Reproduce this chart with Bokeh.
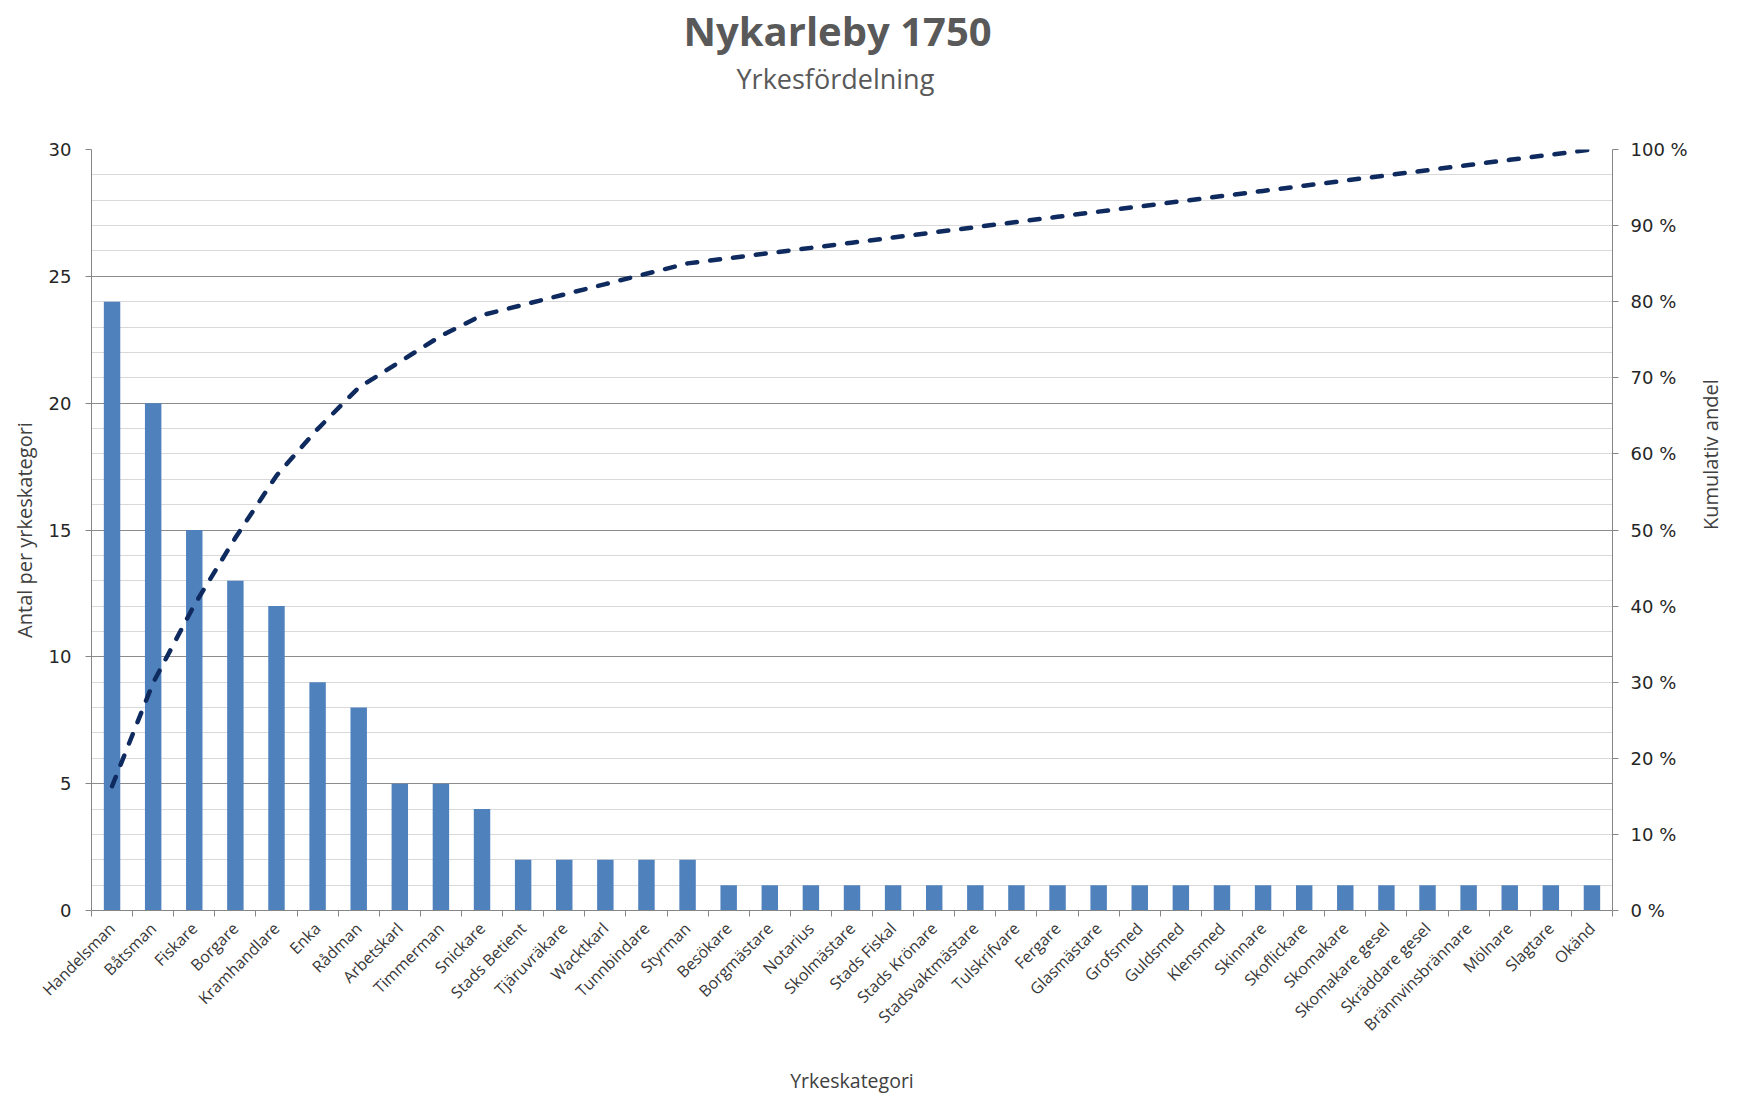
import numpy as np
from math import pi
from bokeh.plotting import figure
from bokeh.models import (Range1d, LinearAxis, FixedTicker, SingleIntervalTicker,
                          ColumnDataSource, Title)
from bokeh.embed import file_html
from bokeh.resources import INLINE

# ---------------- data ----------------
categories = ["Handelsman", "Båtsman", "Fiskare", "Borgare", "Kramhandlare", "Enka",
              "Rådman", "Arbetskarl", "Timmerman", "Snickare", "Stads Betient",
              "Tjäruvräkare", "Wacktkarl", "Tunnbindare", "Styrman", "Besökare",
              "Borgmästare", "Notarius", "Skolmästare", "Stads Fiskal", "Stads Krönare",
              "Stadsvaktmästare", "Tulskrifvare", "Fergare", "Glasmästare", "Grofsmed",
              "Guldsmed", "Klensmed", "Skinnare", "Skoflickare", "Skomakare",
              "Skomakare gesel", "Skräddare gesel", "Brännvinsbrännare", "Mölnare",
              "Slagtare", "Okänd"]
counts = [24, 20, 15, 13, 12, 9, 8, 5, 5, 4, 2, 2, 2, 2, 2,
          1, 1, 1, 1, 1, 1, 1, 1, 1, 1, 1, 1, 1, 1, 1, 1, 1, 1, 1, 1, 1, 1]
left_ticks = [0, 5, 10, 15, 20, 25, 30]
pct_ticks = [0, 10, 20, 30, 40, 50, 60, 70, 80, 90, 100]

title_text = "Nykarleby 1750"
subtitle_text = "Yrkesfördelning"
x_title = "Yrkeskategori"
y_title = "Antal per yrkeskategori"
y2_title = "Kumulativ andel"

# ---------------- derived ----------------
n = len(categories)
xc = np.arange(n) + 0.5
cum_pct = np.cumsum(counts) / np.sum(counts) * 100.0
src = ColumnDataSource(dict(x=xc, cnt=counts, cum=cum_pct, cat=categories))

W, H = 1740, 1096
FL, FR, FT, FB = 91, 1613, 149, 910   # frame edges in canvas px

TEXT = "#404040"
GREY = "#595959"

p = figure(width=W, height=H, output_backend="svg", toolbar_location=None,
           x_range=Range1d(0, n), y_range=Range1d(0, 30),
           min_border_left=FL, min_border_right=W - FR,
           min_border_top=FT, min_border_bottom=H - FB,
           background_fill_color="white", border_fill_color="white")
p.outline_line_color = None
p.extra_y_ranges = {"pct": Range1d(0, 100)}

# titles (padding tuple = left, right, top, bottom)
p.title = Title(text=title_text, align="left", text_font="Open Sans",
                text_font_style="bold", text_font_size="40px", text_color=GREY,
                offset=592, standoff=0)
p.add_layout(Title(text=subtitle_text, align="left",
                   text_font="Open Sans", text_font_style="normal",
                   text_font_size="27px", text_color=GREY,
                   offset=645, standoff=0, padding=(0, 0, 0, 53)), "above")

# grids
p.xgrid.grid_line_color = None
p.ygrid.ticker = SingleIntervalTicker(interval=5, num_minor_ticks=5)
p.ygrid.grid_line_color = "#8C8C8C"
p.ygrid.grid_line_width = 1
p.ygrid.minor_grid_line_color = "#D9D9D9"
p.ygrid.minor_grid_line_width = 1

# bars
p.vbar(x="x", top="cnt", width=0.4, bottom=0, source=src,
       fill_color="#4F81BD", line_color=None)

# cumulative line
p.line(x="x", y="cum", source=src, y_range_name="pct",
       line_color="#0E2A5E", line_width=4.5, line_dash="10 13", line_cap="round")

# x axis
xa = p.xaxis[0]
xa.ticker = FixedTicker(ticks=list(xc), minor_ticks=list(np.arange(n + 1)))
xa.major_label_overrides = {float(v): c for v, c in zip(xc, categories)}
xa.major_label_orientation = pi / 4
xa.major_tick_line_color = None
xa.minor_tick_in = 0
xa.minor_tick_out = 6
xa.minor_tick_line_color = "#868686"
xa.axis_line_color = "#868686"
xa.major_label_text_font = "Open Sans"
xa.major_label_text_font_size = "16px"
xa.major_label_text_color = "#383838"
xa.major_label_standoff = 9
xa.axis_label = x_title
xa.axis_label_text_font = "Open Sans"
xa.axis_label_text_font_size = "19.5px"
xa.axis_label_text_font_style = "normal"
xa.axis_label_text_color = TEXT
xa.axis_label_standoff = 21

# left axis
ya = p.yaxis[0]
ya.ticker = FixedTicker(ticks=left_ticks)
ya.axis_line_color = "#868686"
ya.major_tick_line_color = "#868686"
ya.major_tick_in = 0
ya.major_tick_out = 6
ya.minor_tick_line_color = None
ya.major_label_text_font = "DejaVu Sans"
ya.major_label_text_font_size = "18px"
ya.major_label_text_color = "#262626"
ya.major_label_standoff = 14
ya.axis_label = y_title
ya.axis_label_text_font = "Open Sans"
ya.axis_label_text_font_size = "20px"
ya.axis_label_text_font_style = "normal"
ya.axis_label_text_color = TEXT
ya.axis_label_standoff = 8

# right axis
ra = LinearAxis(y_range_name="pct", ticker=FixedTicker(ticks=pct_ticks))
ra.major_label_overrides = {t: f"{t} %" for t in pct_ticks}
ra.axis_line_color = "#868686"
ra.major_tick_line_color = "#868686"
ra.major_tick_in = 0
ra.major_tick_out = 6
ra.minor_tick_line_color = None
ra.major_label_text_font = "DejaVu Sans"
ra.major_label_text_font_size = "18px"
ra.major_label_text_color = "#262626"
ra.major_label_standoff = 12
ra.axis_label = y2_title
ra.axis_label_orientation = pi / 2
ra.axis_label_text_font = "Open Sans"
ra.axis_label_text_font_size = "20px"
ra.axis_label_text_font_style = "normal"
ra.axis_label_text_color = TEXT
ra.axis_label_standoff = 20
p.add_layout(ra, "right")

open("out.html", "w").write(file_html(p, INLINE))
